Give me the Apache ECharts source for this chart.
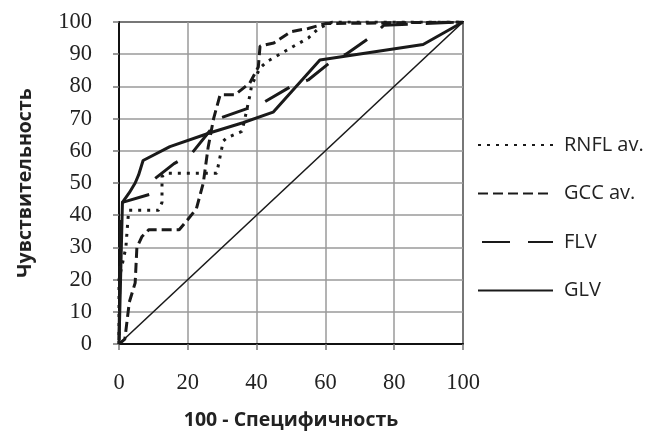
<!DOCTYPE html>
<html>
<head>
<meta charset="utf-8">
<script src="https://cdn.jsdelivr.net/npm/echarts@6/dist/echarts.min.js"></script>
<style>html,body{margin:0;padding:0;background:#fff}#c{width:648px;height:435px}</style>
</head>
<body>
<div id="c"></div>
<script>
// ---- data ----
var seriesNames = ["RNFL av.", "GCC av.", "FLV", "GLV"];
var xTicks = [0, 20, 40, 60, 80, 100];
var yTicks = [0, 10, 20, 30, 40, 50, 60, 70, 80, 90, 100];

var rnflX = [0, 0, 1, 2, 2.8, 11.5, 12.5, 12.5, 13.5, 28.4, 30.3, 31.3, 35.7, 36.6, 38, 38.6, 41, 43, 50, 55, 58, 62, 100];
var rnflY = [0, 20, 25, 30, 41.5, 41.5, 44, 52, 53, 53, 63, 64, 66, 70, 77, 80.5, 85.7, 87.7, 92, 95, 98, 100, 100];

var gccX = [0, 1.7, 3, 4.7, 5.2, 6.7, 8.7, 17.5, 19.5, 22.5, 24.5, 25.9, 27.5, 29.4, 33.7, 38, 40.5, 41, 45, 50, 55, 60, 100];
var gccY = [0, 1.5, 13, 19, 30, 33.4, 35.5, 35.5, 38, 42, 50, 61, 70, 77.4, 77.4, 81, 86, 92.5, 93.5, 97, 98, 99.5, 100];

var flvX = [0, 0.5, 1, 9, 10, 16, 21, 27, 29, 37, 42, 50, 55, 62, 66, 74, 77, 100];
var flvY = [0, 43, 44, 46.5, 51, 56, 59, 67, 70, 73, 75, 80, 82, 88, 90, 96, 99, 100];

var glvX = [0, 1, 3, 4.7, 5.7, 7, 14.8, 26.5, 36, 44.8, 58.4, 88.4, 100];
var glvY = [0, 44, 47, 50, 52.5, 57, 61.3, 65.6, 68.7, 72, 88.2, 93, 100];

var diagX = [0, 100];
var diagY = [0, 100];

function zip(xs, ys) { return xs.map(function (x, i) { return [x, ys[i]]; }); }

var chart = echarts.init(document.getElementById('c'), null, { renderer: 'canvas' });
var ink = '#1a1a1a';
var lineBase = { type: 'line', symbol: 'none', showSymbol: false, smooth: false, silent: true, z: 3 };

chart.setOption({
  animation: false,
  backgroundColor: '#fff',
  grid: { left: 119, right: 185, top: 22, bottom: 90, show: true, borderColor: '#111', borderWidth: 2, backgroundColor: 'transparent' },
  legend: {
    orient: 'vertical', left: 477, top: 135, itemGap: 28.5, padding: 0,
    itemWidth: 75, itemHeight: 14,
    data: seriesNames,
    itemStyle: { opacity: 0 },
    textStyle: { fontFamily: 'Open Sans', fontSize: 20, color: '#222', padding: [0, 0, 0, 6] }
  },
  xAxis: {
    type: 'value', min: 0, max: 100, interval: 20,
    name: '100 - Специфичность', nameLocation: 'middle', nameGap: 66,
    nameTextStyle: { fontFamily: 'Open Sans', fontWeight: 'bold', fontSize: 19.5, color: '#222' },
    axisLine: { show: true, lineStyle: { color: '#111', width: 2 } },
    axisTick: { show: true, length: 6, lineStyle: { color: '#777', width: 1.5 } },
    splitLine: { show: true, lineStyle: { color: '#9a9a9a', width: 1.5 } },
    axisLabel: { margin: 28, fontFamily: 'Liberation Serif', fontSize: 22.5, color: '#222',
      formatter: function (v) { return xTicks.indexOf(v) >= 0 ? String(v) : ''; } }
  },
  yAxis: {
    type: 'value', min: 0, max: 100, interval: 10,
    name: 'Чувствительность', nameLocation: 'middle', nameGap: 84, nameRotate: 90,
    nameTextStyle: { fontFamily: 'Open Sans', fontWeight: 'bold', fontSize: 19.5, color: '#222' },
    axisLine: { show: true, lineStyle: { color: '#111', width: 2 } },
    axisTick: { show: true, length: 6, lineStyle: { color: '#777', width: 1.5 } },
    splitLine: { show: true, lineStyle: { color: '#9a9a9a', width: 1.5 } },
    axisLabel: { margin: 27, fontFamily: 'Liberation Serif', fontSize: 22.5, color: '#222',
      formatter: function (v) { return yTicks.indexOf(v) >= 0 ? String(v) : ''; } }
  },
  series: [
    Object.assign({}, lineBase, { name: 'diag', data: zip(diagX, diagY), lineStyle: { color: ink, width: 1.6 }, z: 2 }),
    Object.assign({}, lineBase, { name: seriesNames[0], data: zip(rnflX, rnflY), lineStyle: { color: ink, width: 3, type: [3, 6] }, itemStyle: { color: ink } }),
    Object.assign({}, lineBase, { name: seriesNames[1], data: zip(gccX, gccY), lineStyle: { color: ink, width: 3, type: [10, 5] }, itemStyle: { color: ink } }),
    Object.assign({}, lineBase, { name: seriesNames[2], data: zip(flvX, flvY), lineStyle: { color: ink, width: 3, type: [28, 18], dashOffset: 42 }, itemStyle: { color: ink } }),
    Object.assign({}, lineBase, { name: seriesNames[3], data: zip(glvX, glvY), lineStyle: { color: ink, width: 3 }, itemStyle: { color: ink } })
  ]
});
</script>
</body>
</html>
